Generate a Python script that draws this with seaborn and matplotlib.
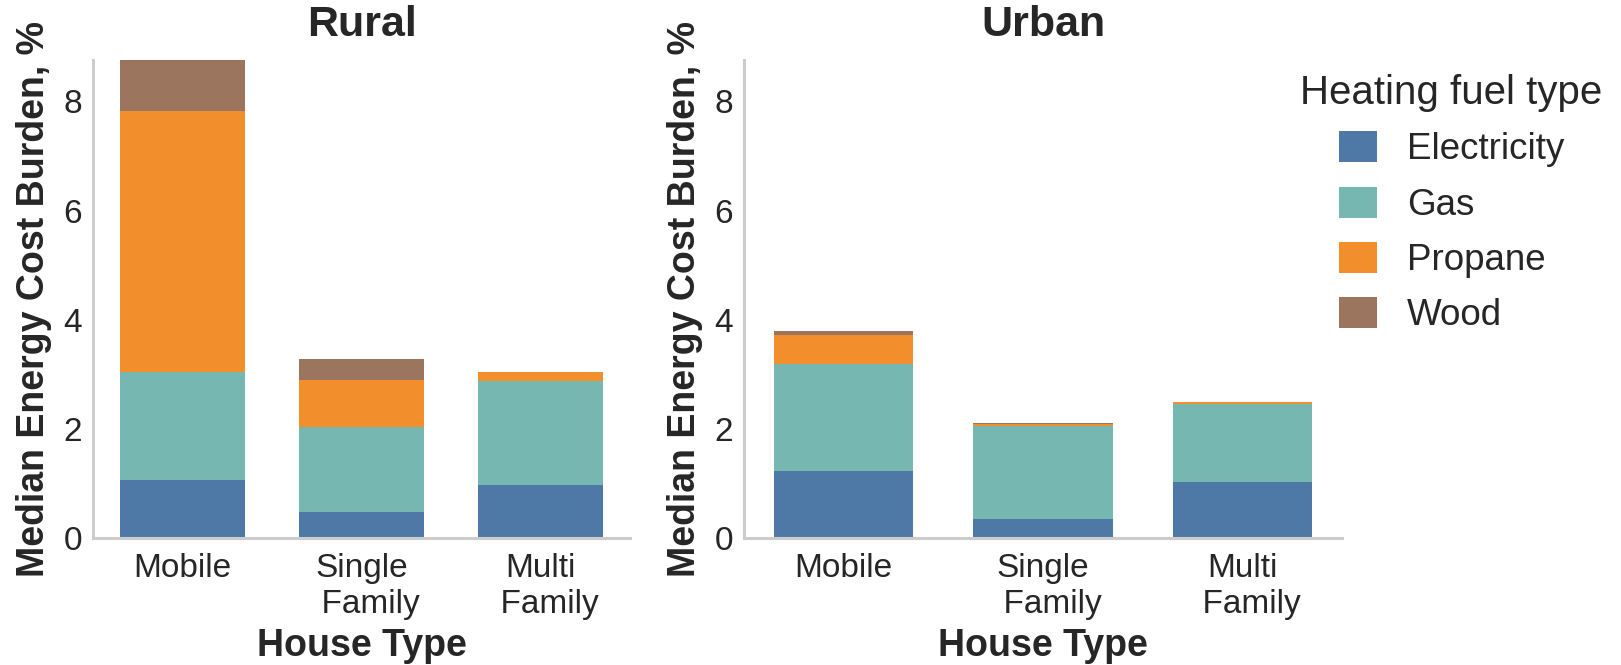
import numpy as np
import pandas as pd
import matplotlib
matplotlib.use("Agg")
import matplotlib.pyplot as plt
import seaborn as sns

# ---- data ----
house_types = ["Mobile", "Single\n  Family", "Multi\n  Family"]
fuels = ["Electricity", "Gas", "Propane", "Wood"]
panels = ["Rural", "Urban"]

rural_electricity = [1.06, 0.48, 0.97]
rural_gas = [1.98, 1.55, 1.91]
rural_propane = [4.79, 0.87, 0.15]
rural_wood = [0.93, 0.37, 0.00]

urban_electricity = [1.23, 0.34, 1.02]
urban_gas = [1.96, 1.70, 1.43]
urban_propane = [0.52, 0.04, 0.03]
urban_wood = [0.08, 0.02, 0.00]

fuel_colors = ["#4e79a7", "#76b7b2", "#f28e2b", "#9c755f"]

data = {
    "Rural": [rural_electricity, rural_gas, rural_propane, rural_wood],
    "Urban": [urban_electricity, urban_gas, urban_propane, urban_wood],
}

sns.set_theme(style="whitegrid")
plt.rcParams["font.family"] = ["Liberation Sans", "DejaVu Sans"]
plt.rcParams["text.color"] = ".15"
plt.rcParams["axes.labelcolor"] = ".15"
plt.rcParams["xtick.color"] = ".15"
plt.rcParams["ytick.color"] = ".15"

fig = plt.figure(figsize=(16.21, 6.65), dpi=100)
ax_r = fig.add_axes([93 / 1621, 1 - 537.7 / 665, (630 - 93) / 1621, (537.7 - 60) / 665])
ax_u = fig.add_axes([744 / 1621, 1 - 537.7 / 665, (1342 - 744) / 1621, (537.7 - 60) / 665])

ymax = max(np.sum(np.array(data[p]), axis=0).max() for p in panels)

for ax, panel in zip([ax_r, ax_u], panels):
    vals = np.array(data[panel])
    cum = np.cumsum(vals, axis=0)
    # draw from top of stack down so lower segments cover upper totals
    for i in range(len(fuels) - 1, -1, -1):
        df = pd.DataFrame({"House Type": house_types, "value": cum[i]})
        sns.barplot(data=df, x="House Type", y="value", order=house_types,
                    color=fuel_colors[i], width=0.7, linewidth=0,
                    saturation=1, ax=ax, label=fuels[i])
    ax.grid(False)
    ax.set_ylim(0, ymax)
    ax.set_yticks([0, 2, 4, 6, 8])
    ax.set_title(panel, fontsize=31, fontweight="bold", pad=17)
    ax.set_xlabel("House Type", fontsize=27, fontweight="bold", labelpad=6)
    ax.set_ylabel("Median Energy Cost Burden, %", fontsize=27, fontweight="bold", labelpad=8)
    ax.tick_params(axis="both", labelsize=24, length=0)
    ax.tick_params(axis="x", pad=11)
    ax.tick_params(axis="y", pad=8)
    for s in ["left", "bottom"]:
        ax.spines[s].set_color(".8")
        ax.spines[s].set_linewidth(2.2)
    sns.despine(ax=ax)
    if ax.get_legend() is not None:
        ax.get_legend().remove()

handles, labels = ax_u.get_legend_handles_labels()
order = [labels.index(f) for f in fuels]
leg = ax_u.legend([handles[k] for k in order], [labels[k] for k in order],
                  title="Heating fuel type", loc="upper left",
                  bbox_to_anchor=(1267 / 1621, 1 - 41 / 665),
                  bbox_transform=fig.transFigure,
                  frameon=False, fontsize=26.5, title_fontsize=29,
                  handlelength=1.05, handleheight=0.92, handletextpad=0.8,
                  labelspacing=0.52)

fig.savefig("out.png", dpi=100)
